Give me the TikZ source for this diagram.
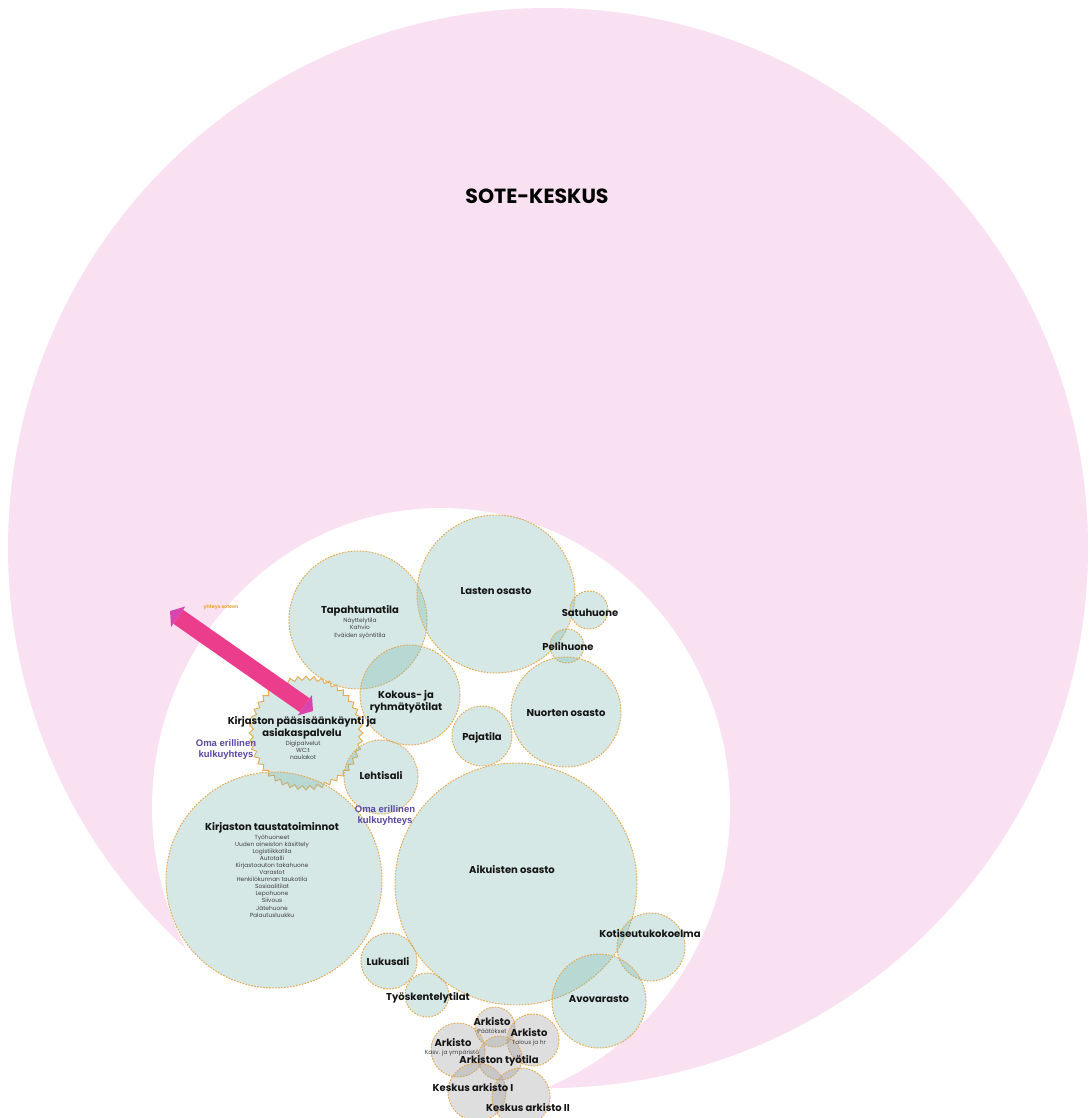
\documentclass[tikz,border=0pt]{standalone}
\usepackage{fontspec}
\setmainfont{Poppins}
\newfontfamily\arialf{Liberation Sans}
\usetikzlibrary{shapes.geometric,arrows.meta}
\definecolor{pinkbg}{HTML}{F9E1F1}
\definecolor{roomfill}{HTML}{76B6AC}
\definecolor{greyfill}{HTML}{9B9B9B}
\definecolor{bordercol}{HTML}{E8A84E}
\definecolor{arrowpink}{HTML}{EC3D8D}
\definecolor{arrowtip}{HTML}{D944AE}
\definecolor{purp}{HTML}{5A47A3}
\definecolor{orangetxt}{HTML}{F0A535}
\begin{document}
\begin{tikzpicture}[x=1pt,y=-1pt,
  room/.style={circle, inner sep=0pt, fill=roomfill, fill opacity=0.3, draw=bordercol, draw opacity=1, line width=0.95pt, dash pattern=on 1.7pt off 1.3pt, minimum size=#1},
  archive/.style={room=#1, fill=greyfill, fill opacity=0.33},
  lbl/.style={font=\bfseries\fontsize{10}{12.2}\selectfont, align=center, inner sep=0pt, text=black!92},
  sub/.style={font=\fontsize{5.9}{7.1}\selectfont, align=center, inner sep=0pt, text=black!75},
  purplbl/.style={font=\arialf\bfseries\fontsize{9.5}{11}\selectfont, text=purp, align=center, inner sep=0pt}
]
\useasboundingbox (0,0) rectangle (1089,1118);
% background
\fill[pinkbg] (548,548) circle[radius=540];
\fill[white] (441,808) ellipse[x radius=289, y radius=300];
\node[font=\bfseries\fontsize{20.5}{22}\selectfont] (title) at (537,196) {SOTE-KESKUS};

% rooms
\node[room=138] (tapa) at (358,620) {};
\node[room=158] (lasten) at (496,594) {};
\node[room=38] (satu) at (589,610) {};
\node[room=34] (peli) at (567,646) {};
\node[room=110] (nuoret) at (566,712) {};
\node[room=60] (paja) at (482,736) {};
\node[room=100] (kokous) at (410,695) {};
\node[star, star points=44, star point ratio=1.08, minimum size=114, inner sep=0pt,
      fill=roomfill, fill opacity=0.3, draw=bordercol, draw opacity=1, line width=0.9pt] (entry) at (306,733) {};
\node[room=74] (lehti) at (381,777) {};
\node[room=216] (tausta) at (274,880) {};
\node[room=242] (aikuiset) at (516,884) {};
\node[room=68] (koti) at (651,947) {};
\node[room=94] (avo) at (599,1001) {};
\node[room=56] (luku) at (389,961) {};
\node[room=44] (tyo) at (427,995) {};

% archives
\node[archive=40] (ark1) at (495,1027) {};
\node[archive=52] (ark2) at (533,1040) {};
\node[archive=54] (ark3) at (458,1050) {};
\node[archive=44] (arktyo) at (500,1058) {};
\node[archive=58] (kesk1) at (477,1092) {};
\node[archive=58] (kesk2) at (521,1097) {};

% arrow
\coordinate (aS) at (170,611);
\coordinate (aE) at (313,711);
\draw[arrowpink, line width=17pt,
  {Triangle[width=25pt,length=10pt,line width=0pt,fill=arrowtip,color=arrowtip]}-{Triangle[width=25pt,length=10pt,line width=0pt,fill=arrowtip,color=arrowtip]}]
  (aS) -- (aE);
\node[font=\bfseries\fontsize{4.8}{5}\selectfont, text=orangetxt, inner sep=0pt] (yhteys) at (221,607) {yhteys soteen};

% labels
\node[lbl] (tapaL) at (360,611) {Tapahtumatila};
\node[sub] (tapaS) at (360,628.5) {Näyttelytila\\Kahvio\\Eväiden syöntitila};
\node[lbl] (lastenL) at (496,591) {Lasten osasto};
\node[lbl] (satuL) at (590,613) {Satuhuone};
\node[lbl] (peliL) at (568,647) {Pelihuone};
\node[lbl] (nuoretL) at (566,713) {Nuorten osasto};
\node[lbl] (pajaL) at (482,738) {Pajatila};
\node[lbl] (kokousL) at (406,701.5) {Kokous- ja\\ryhmätyötilat};
\node[lbl] (entryL) at (302,728) {Kirjaston pääsisäänkäynti ja\\asiakaspalvelu};
\node[sub] (entryS) at (303,750.5) {Digipalvelut\\WC:t\\naulakot};
\node[lbl] (lehtiL) at (381,776) {Lehtisali};
\node[lbl] (taustaL) at (272,828) {Kirjaston taustatoiminnot};
\node[sub, anchor=north] (taustaS) at (272,834.5) {Työhuoneet\\Uuden aineiston käsittely\\Logistiikkatila\\Autotalli\\Kirjastoauton takahuone\\Varastot\\Henkilökunnan taukotila\\Sosiaalitilat\\Lepohuone\\Siivous\\Jätehuone\\Palautusluukku};
\node[lbl] (aikuisetL) at (512,870) {Aikuisten osasto};
\node[lbl] (kotiL) at (650,934) {Kotiseutukokoelma};
\node[lbl] (avoL) at (599,999) {Avovarasto};
\node[lbl] (lukuL) at (388,962) {Lukusali};
\node[lbl] (tyoL) at (428,998) {Työskentelytilat};
\node[lbl] (ark1L) at (492,1022) {Arkisto};
\node[sub] (ark1S) at (492,1031) {Päätökset};
\node[lbl] (ark2L) at (529,1033) {Arkisto};
\node[sub] (ark2S) at (529,1043) {Talous ja hr};
\node[lbl] (ark3L) at (453,1043) {Arkisto};
\node[sub] (ark3S) at (452,1053) {Kasv. ja ympäristö};
\node[lbl] (arktyoL) at (499,1061) {Arkiston työtila};
\node[lbl] (kesk1L) at (473,1088) {Keskus arkisto I};
\node[lbl] (kesk2L) at (528,1108) {Keskus arkisto II};

\node[purplbl] (oma1) at (226,750) {Oma erillinen\\kulkuyhteys};
\node[purplbl] (oma2) at (385,816) {Oma erillinen\\kulkuyhteys};
\end{tikzpicture}
\end{document}
